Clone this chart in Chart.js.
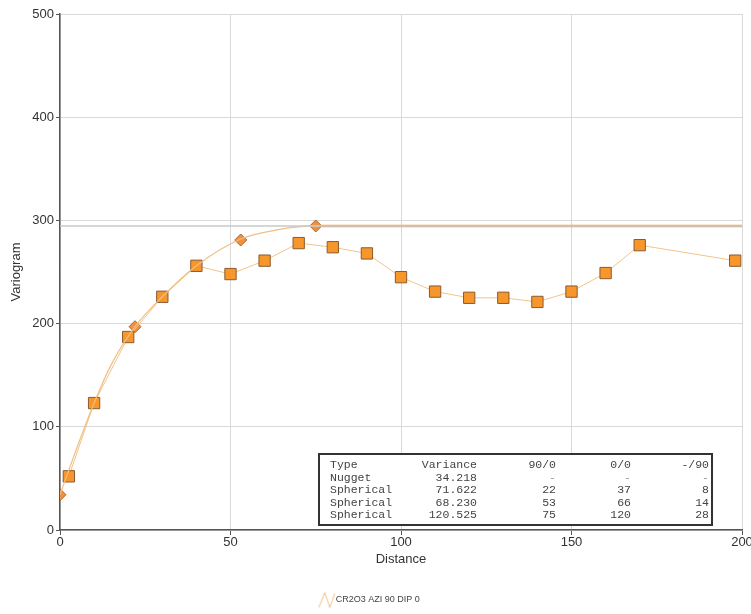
<!DOCTYPE html>
<html>
<head>
<meta charset="utf-8">
<title>Variogram</title>
<script src="https://cdn.jsdelivr.net/npm/chart.js@4"></script>
<style>
  html, body { margin: 0; padding: 0; background: #fff; overflow: hidden; }
  #wrap { width: 751px; height: 614px; }
</style>
</head>
<body>
<div id="wrap"><canvas id="variogramChart"></canvas></div>
<script>
// ===================== Data =====================
// experimental variogram (lag distance / gamma)
const lagDist  = [2.6, 10, 20, 30, 40, 50, 60, 70, 80, 90, 100, 110, 120, 130, 140, 150, 160, 170, 198];
const lagGamma = [52, 123, 187, 226, 256, 248, 261, 278, 274, 268, 245, 231, 225, 225, 221, 231, 249, 276, 261];

// fitted model curve
const modelDist  = [0, 5, 10, 15, 22, 30, 40, 53, 64, 75, 200];
const modelGamma = [34.2, 80, 123, 160, 197, 226, 256, 282, 291, 294.6, 294.6];

// structure markers (nugget + ranges)
const structDist  = [0, 22, 53, 75];
const structGamma = [34.2, 197, 281, 294.6];

const sill = 294.6;
const xTicks = [0, 50, 100, 150, 200];
const yTicks = [0, 100, 200, 300, 400, 500];

const seriesLabel = 'CR2O3 AZI 90 DIP 0';
const tableHead = ['Type', 'Variance', '90/0', '0/0', '-/90'];
const tableRows = [
  ['Nugget', '34.218', '-', '-', '-'],
  ['Spherical', '71.622', '22', '37', '8'],
  ['Spherical', '68.230', '53', '66', '14'],
  ['Spherical', '120.525', '75', '120', '28']
];

const toPoints = (xs, ys) => xs.map((x, i) => ({ x: x, y: ys[i] }));

// ===================== Legend icon =====================
const zigzag = document.createElement('canvas');
zigzag.width = 18; zigzag.height = 18;
(function () {
  const c = zigzag.getContext('2d');
  c.strokeStyle = '#efc488';
  c.lineWidth = 1;
  c.beginPath();
  c.moveTo(1, 17);
  c.lineTo(7, 2);
  c.lineTo(12, 17);
  c.lineTo(17, 3);
  c.stroke();
})();

// ===================== Parameter table =====================
const tablePlugin = {
  id: 'paramTable',
  afterDatasetsDraw(chart) {
    const ctx = chart.ctx;
    const area = chart.chartArea;
    const right = area.right - 30, bottom = area.bottom - 5;
    const left = 319, top = 454;
    ctx.save();
    ctx.fillStyle = '#fff';
    ctx.fillRect(left, top, right - left, bottom - top);
    ctx.strokeStyle = '#333';
    ctx.lineWidth = 2;
    ctx.strokeRect(left, top, right - left, bottom - top);

    ctx.font = '11.5px "Liberation Mono", "Courier New", monospace';
    ctx.textBaseline = 'middle';
    const colX = [330, 477, 556, 631, 709];
    const rows = [tableHead].concat(tableRows);
    rows.forEach((row, r) => {
      const y = 465 + r * 12.5;
      row.forEach((txt, c) => {
        ctx.textAlign = c === 0 ? 'left' : 'right';
        ctx.fillStyle = txt === '-' ? '#999' : '#444';
        ctx.fillText(txt, colX[c], y);
      });
    });
    ctx.restore();
  }
};

// ===================== Chart =====================
const ctx = document.getElementById('variogramChart').getContext('2d');

new Chart(ctx, {
  type: 'scatter',
  data: {
    datasets: [
      {
        label: 'sill',
        data: [{ x: 0, y: sill }, { x: 200, y: sill }],
        showLine: true,
        borderColor: '#c9c9c9',
        borderWidth: 1.5,
        pointRadius: 0
      },
      {
        label: 'model',
        data: toPoints(modelDist, modelGamma),
        showLine: true,
        cubicInterpolationMode: 'monotone',
        borderColor: '#f0bf85',
        borderWidth: 1.2,
        pointRadius: 0,
        segment: {
          borderColor: c => c.p0.parsed.x >= 75 ? '#efa456' : '#f0bf85',
          borderWidth: c => c.p0.parsed.x >= 75 ? 2.5 : 1.2
        }
      },
      {
        label: seriesLabel,
        data: toPoints(lagDist, lagGamma),
        showLine: true,
        borderColor: '#f2c48c',
        borderWidth: 1,
        pointStyle: 'rect',
        pointRadius: 8,
        pointBackgroundColor: '#f7972b',
        pointBorderColor: '#8c5a2e',
        pointBorderWidth: 1
      },
      {
        label: 'structures',
        data: toPoints(structDist, structGamma),
        showLine: false,
        pointStyle: 'rectRot',
        pointRadius: 6,
        pointBackgroundColor: '#ef913f',
        pointBorderColor: '#a8662f',
        pointBorderWidth: 1
      }
    ]
  },
  options: {
    responsive: true,
    maintainAspectRatio: false,
    animation: false,
    layout: { padding: { left: 0, right: 9, top: 14, bottom: 0 } },
    plugins: {
      tooltip: { enabled: false },
      legend: {
        position: 'bottom',
        labels: {
          usePointStyle: true,
          padding: 10,
          color: '#444',
          font: { family: 'Arial, "Liberation Sans", sans-serif', size: 9 },
          generateLabels: () => [{
            text: seriesLabel,
            pointStyle: zigzag,
            fillStyle: '#fff',
            strokeStyle: '#fff',
            lineWidth: 0,
            fontColor: '#444',
            datasetIndex: 2
          }]
        }
      }
    },
    scales: {
      x: {
        type: 'linear',
        min: 0,
        max: 200,
        afterBuildTicks: s => { s.ticks = xTicks.map(v => ({ value: v })); },
        afterFit: s => { s.height = 55; s.paddingRight = 0; s.paddingLeft = 0; },
        ticks: {
          color: '#333',
          padding: 0,
          maxRotation: 0,
          font: { family: 'Arial, "Liberation Sans", sans-serif', size: 13 }
        },
        grid: { color: '#d9d9d9', tickColor: '#555', tickLength: 5 },
        border: { color: '#555', width: 1.5 },
        title: {
          display: true,
          text: 'Distance',
          color: '#333',
          padding: { top: 0, bottom: 18 },
          font: { family: 'Arial, "Liberation Sans", sans-serif', size: 13 }
        }
      },
      y: {
        min: 0,
        max: 500,
        afterBuildTicks: s => { s.ticks = yTicks.map(v => ({ value: v })); },
        afterFit: s => { s.width = 60; s.paddingTop = 0; s.paddingBottom = 0; },
        ticks: {
          color: '#333',
          padding: 2,
          font: { family: 'Arial, "Liberation Sans", sans-serif', size: 13 }
        },
        grid: { color: '#d9d9d9', tickColor: '#555', tickLength: 4 },
        border: { color: '#555', width: 1.5 },
        title: {
          display: true,
          text: 'Variogram',
          color: '#333',
          padding: { top: 9, bottom: 0 },
          font: { family: 'Arial, "Liberation Sans", sans-serif', size: 13 }
        }
      }
    }
  },
  plugins: [tablePlugin]
});
</script>
</body>
</html>
